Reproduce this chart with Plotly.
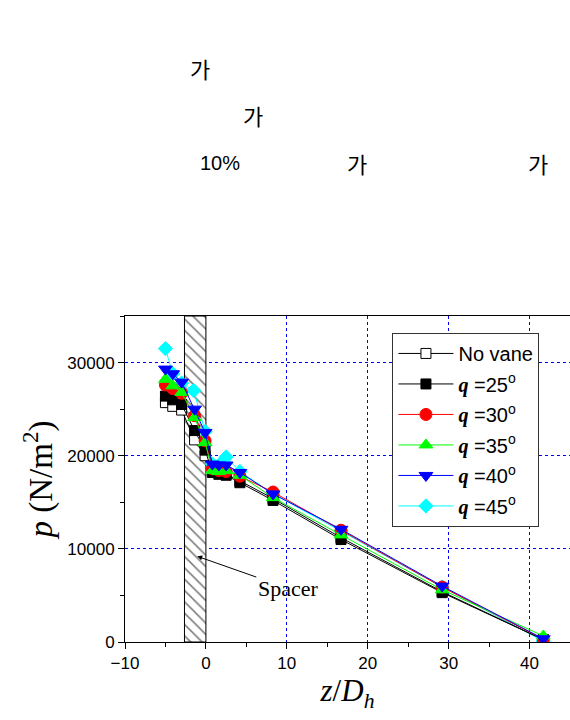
import plotly.graph_objects as go

# ---- data ----
z_pos = [-5.0, -4.1, -3.0, -1.4, -0.1, 0.8, 1.6, 2.5, 4.2, 8.3, 16.7, 29.2, 41.7]
p_novane = [25700, 25300, 24900, 21700, 20000, 18500, 18200, 18000, 17300, 15400, 11200, 5400, 250]
p_q25 = [26400, 26000, 25500, 22700, 20600, 18200, 18000, 17900, 17100, 15200, 11000, 5300, 250]
p_q30 = [27600, 27200, 26700, 24300, 21600, 18600, 18400, 18300, 17800, 16100, 12000, 5900, 300]
p_q35 = [28200, 27500, 26800, 24100, 21400, 18400, 18300, 18400, 17900, 15500, 11500, 5600, 650]
p_q40 = [29300, 28800, 27900, 25000, 22500, 19100, 19000, 19000, 18200, 15900, 12100, 6000, 350]
z_q45 = [-5.0, -4.1, -3.0, -1.5, -0.1, 0.8, 1.6, 2.5, 4.2, 8.3, 16.7, 29.2, 41.7]
p_q45 = [31500, 28800, 27800, 27000, 22600, 19100, 19000, 19860, 18300, 15900, 11900, 5900, 100]

spacer_start, spacer_end = -2.65, 0.0
spacer_top = 35000

x_ticks = [-10, 0, 10, 20, 30, 40]
y_ticks = [0, 10000, 20000, 30000]

SERIF = "Liberation Serif, Times New Roman, serif"
SANS = "Liberation Sans, Arial, sans-serif"
QSPAN = "<b><i><span style='font-family:Liberation Serif'>q</span></i></b> ="

fig = go.Figure()

# spacer (hatched)
fig.add_trace(go.Bar(
    x=[(spacer_start + spacer_end) / 2], y=[spacer_top], base=0,
    width=[spacer_end - spacer_start],
    marker=dict(color="white", line=dict(color="black", width=1),
                pattern=dict(shape="\\", fgcolor="black", bgcolor="white", size=8, solidity=0.2)),
    showlegend=False, hoverinfo="skip"))

series = [
    ("No vane", z_pos, p_novane, "black", "square", "white", 10, 1),
    (QSPAN + "25<sup>o</sup>", z_pos, p_q25, "black", "square", "black", 10, 2),
    (QSPAN + "30<sup>o</sup>", z_pos, p_q30, "red", "circle", "red", 12, 3),
    (QSPAN + "35<sup>o</sup>", z_pos, p_q35, "#00FF00", "triangle-up", "#00FF00", 12, 4),
    (QSPAN + "40<sup>o</sup>", z_pos, p_q40, "blue", "triangle-down", "blue", 12, 5),
    (QSPAN + "45<sup>o</sup>", z_q45, p_q45, "cyan", "diamond", "cyan", 11, 6),
]
# draw cyan first so it sits beneath the others
order = [5, 0, 1, 2, 3, 4]
for i in order:
    name, xs, ys, col, sym, fill, sz, rank = series[i]
    fig.add_trace(go.Scatter(
        x=xs, y=ys, name=name, mode="lines+markers",
        line=dict(color=col, width=1),
        marker=dict(symbol=sym, color=fill, size=sz,
                    line=dict(color="black" if i < 2 else col, width=1)),
        legendrank=rank, legendgroup=f"g{rank}"))

axis_common = dict(
    showline=True, linecolor="black", linewidth=1, mirror=True,
    ticks="outside", ticklen=6, tickcolor="black", tickwidth=1,
    showgrid=True, gridcolor="blue", griddash="dot", gridwidth=1,
    zeroline=False, tickfont=dict(family=SANS, size=17, color="black"),
)

fig.update_xaxes(range=[-10, 45], tickvals=x_ticks,
                 minor=dict(ticks="outside", ticklen=4, dtick=5, tick0=-10, showgrid=False, tickcolor="black"),
                 title=dict(text="<i>z</i>/<i>D<sub>h</sub></i>", font=dict(family=SERIF, size=31, color="black"), standoff=2),
                 **axis_common)
fig.update_yaxes(range=[0, 35000], tickvals=y_ticks, tickformat="d",
                 minor=dict(ticks="outside", ticklen=4, dtick=5000, tick0=0, showgrid=False, tickcolor="black"),
                 title=dict(text="<i>p</i> (N/m<sup>2</sup>)", font=dict(family=SERIF, size=33, color="black"), standoff=4),
                 **axis_common)

# Spacer label
fig.add_annotation(x=-1.07, y=9200, xref="x", yref="y", text="Spacer",
                   font=dict(family=SERIF, size=22, color="black"),
                   showarrow=True, ax=91, ay=32, arrowhead=2, arrowsize=1, arrowwidth=1, arrowcolor="black")

# top Korean text fragments
KFONT = "Noto Sans CJK KR"
top_texts = [
    ("가", 0.1694, 1.761, KFONT, 22),
    ("가", 0.2885, 1.6166, KFONT, 22),
    ("10%", 0.2144, 1.469, "Liberation Sans Narrow, Arial Narrow, sans-serif", 20),
    ("가", 0.522, 1.469, KFONT, 22),
    ("가", 0.927, 1.469, KFONT, 22),
]
for t, xx, yy, fam, fs in top_texts:
    fig.add_annotation(x=xx, y=yy, xref="paper", yref="paper", text=t, showarrow=False,
                       font=dict(family=fam, size=fs, color="black"), xanchor="center", yanchor="middle")

fig.update_layout(
    width=570, height=720,
    margin=dict(l=124.6, r=0.4, t=316, b=78),
    paper_bgcolor="white", plot_bgcolor="white",
    barmode="overlay",
    legend=dict(x=0.601, y=0.948, xanchor="left", yanchor="top",
                bgcolor="white", bordercolor="#333", borderwidth=1,
                font=dict(family=SANS, size=20, color="black"),
                traceorder="grouped", tracegroupgap=1.5, itemwidth=55),
    showlegend=True,
)

fig.write_html("out.html")
